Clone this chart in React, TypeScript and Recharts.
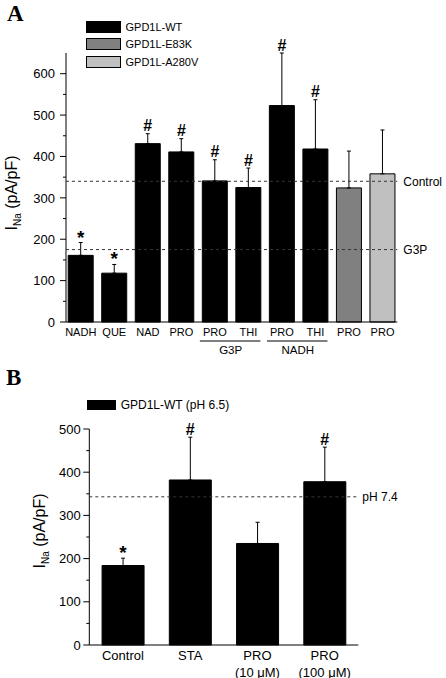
import { ComposedChart, Bar, Cell, ErrorBar, Line, XAxis, YAxis, ReferenceLine } from "recharts";

const FONT = "'Liberation Sans', Arial, Helvetica, sans-serif";
const SERIF = "'Liberation Serif', 'Times New Roman', serif";

// Panel A: GPD1L variants, INa density (pA/pF)
const labelsA = ["NADH", "QUE", "NAD", "PRO", "PRO", "THI", "PRO", "THI", "PRO", "PRO"];
const meansA = [161, 118, 431, 411, 341, 325, 523, 418, 324, 358];
const upperA = [192, 139, 455, 443, 392, 372, 650, 537, 413, 464];
const marksA = ["*", "*", "#", "#", "#", "#", "#", "#", "", ""];
const genotypeA = ["WT", "WT", "WT", "WT", "WT", "WT", "WT", "WT", "E83K", "A280V"];
const groupsA = [
	{ label: "G3P", first: 4 },
	{ label: "NADH", first: 6 },
];
const refLinesA = [
	{ label: "Control", value: 340 },
	{ label: "G3P", value: 175 },
];
const legendA = [
	{ key: "WT", label: "GPD1L-WT" },
	{ key: "E83K", label: "GPD1L-E83K" },
	{ key: "A280V", label: "GPD1L-A280V" },
];
const ticksA = [0, 50, 100, 150, 200, 250, 300, 350, 400, 450, 500, 550, 600];

// Panel B: pH 6.5
const labelsB = [["Control"], ["STA"], ["PRO", "(10 \u03bcM)"], ["PRO", "(100 \u03bcM)"]];
const meansB = [184, 382, 235, 378];
const upperB = [201, 481, 284, 458];
const marksB = ["*", "#", "", "#"];
const refLineB = { label: "pH 7.4", value: 343 };
const ticksB = [0, 50, 100, 150, 200, 250, 300, 350, 400, 450, 500];

const colors: Record<string, string> = {
	WT: "#000000",
	E83K: "#808080",
	A280V: "#c0c0c0",
};

const dataA = labelsA.map((name, i) => ({
	id: i,
	name,
	mean: meansA[i],
	err: [0, upperA[i] - meansA[i]],
	hi: upperA[i],
	mark: marksA[i],
}));

const dataB = labelsB.map((name, i) => ({
	id: i,
	mean: meansB[i],
	err: [0, upperB[i] - meansB[i]],
	hi: upperB[i],
	mark: marksB[i],
}));

// layout
const W = 446;
const A_H = 360;
const A_LEFT = 66;
const A_RIGHT = 48.7;
const A_PAD = -2;
const STEP_A = (W - A_LEFT - A_RIGHT - 2 * A_PAD) / labelsA.length;
const B_H = 318;

function makeYTick(labelGap: number) {
	return function YTick(props: any) {
		const { x, y, payload } = props;
		const major = payload.value % 100 === 0;
		return (
			<g>
				<line x1={x} x2={x - (major ? 6 : 3)} y1={y} y2={y} stroke="#000" strokeWidth={1} />
				{major && (
					<text x={x - labelGap} y={y} dy="0.36em" textAnchor="end" fontSize={13} fontFamily={FONT} fill="#000">
						{payload.value}
					</text>
				)}
			</g>
		);
	};
}

function TickA(props: any) {
	const { x, y, payload } = props;
	const i = payload.value as number;
	const group = groupsA.find((g) => g.first === i);
	return (
		<g>
			<text x={x} y={y + 14} textAnchor="middle" fontSize={11} fontFamily={FONT} fill="#000">
				{labelsA[i]}
			</text>
			{group && (
				<g>
					<line x1={x - 15} x2={x + STEP_A + 12} y1={y + 19} y2={y + 19} stroke="#000" strokeWidth={1} />
					<text x={x + STEP_A / 2 - 1} y={y + 32} textAnchor="middle" fontSize={11.5} fontFamily={FONT} fill="#000">
						{group.label}
					</text>
				</g>
			)}
		</g>
	);
}

function TickB(props: any) {
	const { x, y, payload } = props;
	const lines = labelsB[payload.value as number];
	return (
		<text x={x} y={y + 15} textAnchor="middle" fontSize={13} fontFamily={FONT} fill="#000">
			{lines.map((l, k) => (
				<tspan key={k} x={x} dy={k === 0 ? 0 : 16.5}>
					{l}
				</tspan>
			))}
		</text>
	);
}

function renderMark(props: any) {
	const { cx, cy, payload, index } = props;
	if (!payload.mark) return <g key={index} />;
	const star = payload.mark === "*";
	return (
		<text
			key={index}
			x={cx}
			y={star ? cy + 1 : cy - 2.5}
			textAnchor="middle"
			fontSize={star ? 19 : 16}
			fontWeight="bold"
			fontFamily={FONT}
			fill="#000"
		>
			{payload.mark}
		</text>
	);
}

function YTitle({ x, y }: { x: number; y: number }) {
	return (
		<text transform={`translate(${x},${y}) rotate(-90)`} textAnchor="middle" fontSize={16} fontFamily={FONT} fill="#000">
			I
			<tspan fontSize={10} dy={4}>
				Na
			</tspan>
			<tspan dy={-4}> (pA/pF)</tspan>
		</text>
	);
}

export default function App() {
	return (
		<div style={{ position: "absolute", left: 0, top: 0, width: W, height: 678, background: "#fff", fontFamily: FONT }}>
			<div style={{ position: "absolute", left: 0, top: 0 }}>
				<ComposedChart
					width={W}
					height={A_H}
					data={dataA}
					margin={{ top: 53, right: A_RIGHT, bottom: 0, left: 0 }}
					barCategoryGap="12.5%"
				>
					<XAxis
						dataKey="id"
						type="category"
						interval={0}
						height={38}
						padding={{ left: A_PAD, right: A_PAD }}
						axisLine={{ stroke: "#000" }}
						tickLine={false}
						tickSize={0}
						tickMargin={0}
						tick={TickA}
					/>
					<YAxis
						width={A_LEFT}
						domain={[0, 650]}
						ticks={ticksA}
						interval={0}
						axisLine={{ stroke: "#000" }}
						tickLine={false}
						tickSize={0}
						tickMargin={0}
						tick={makeYTick(11)}
					/>
					<Bar dataKey="mean" isAnimationActive={false} strokeWidth={1}>
						{dataA.map((d, i) => (
							<Cell key={i} fill={colors[genotypeA[i]]} stroke="#000" />
						))}
						<ErrorBar dataKey="err" direction="y" width={2} stroke="#000" strokeWidth={1} />
					</Bar>
					<Line
						dataKey="hi"
						stroke="none"
						isAnimationActive={false}
						dot={renderMark}
						activeDot={false}
						legendType="none"
					/>
					{refLinesA.map((r) => (
						<ReferenceLine
							key={r.label}
							y={r.value}
							stroke="#333"
							strokeDasharray="3 3"
							strokeWidth={1}
							zIndex={1000}
							label={{ value: r.label, position: "right", offset: 6, fontSize: 12, fill: "#000", fontFamily: FONT }}
						/>
					))}
				</ComposedChart>
			</div>

			<div style={{ position: "absolute", left: 0, top: A_H }}>
				<ComposedChart
					width={W}
					height={B_H}
					data={dataB}
					margin={{ top: 69, right: 87.7, bottom: 0, left: 0 }}
					barCategoryGap="19%"
				>
					<XAxis
						dataKey="id"
						type="category"
						interval={0}
						height={33}
						axisLine={{ stroke: "#000" }}
						tickLine={false}
						tickSize={0}
						tickMargin={0}
						tick={TickB}
					/>
					<YAxis
						width={89.3}
						domain={[0, 500]}
						ticks={ticksB}
						interval={0}
						axisLine={{ stroke: "#000" }}
						tickLine={false}
						tickSize={0}
						tickMargin={0}
						tick={makeYTick(8.5)}
					/>
					<Bar dataKey="mean" fill="#000" stroke="#000" isAnimationActive={false}>
						<ErrorBar dataKey="err" direction="y" width={2} stroke="#000" strokeWidth={1} />
					</Bar>
					<Line
						dataKey="hi"
						stroke="none"
						isAnimationActive={false}
						dot={renderMark}
						activeDot={false}
						legendType="none"
					/>
					<ReferenceLine
						y={refLineB.value}
						stroke="#333"
						strokeDasharray="3 3"
						strokeWidth={1}
						zIndex={1000}
						label={{ value: refLineB.label, position: "right", offset: 4, fontSize: 12, fill: "#000", fontFamily: FONT }}
					/>
				</ComposedChart>
			</div>

			{/* legends */}
			{legendA.map((l, i) => (
				<div key={l.key} style={{ position: "absolute", left: 86, top: 20.5 + i * 17.6, display: "flex", alignItems: "center", height: 12 }}>
					<div
						style={{
							width: 33,
							height: 10,
							background: colors[l.key],
							border: "1px solid #000",
							boxSizing: "content-box",
						}}
					/>
					<span style={{ marginLeft: 4.5, fontSize: 11, lineHeight: "12px", color: "#000" }}>{l.label}</span>
				</div>
			))}
			<div style={{ position: "absolute", left: 87.3, top: 399, display: "flex", alignItems: "center", height: 12 }}>
				<div style={{ width: 28.4, height: 10.7, background: "#000" }} />
				<span style={{ marginLeft: 5, fontSize: 12, lineHeight: "12px", color: "#000" }}>GPD1L-WT (pH 6.5)</span>
			</div>

			{/* panel letters and axis titles */}
			<svg width={W} height={678} style={{ position: "absolute", left: 0, top: 0, pointerEvents: "none" }}>
				<text x={7} y={21} fontSize={23} fontWeight="bold" fontFamily={SERIF} fill="#000">
					A
				</text>
				<text x={6} y={385} fontSize={23} fontWeight="bold" fontFamily={SERIF} fill="#000">
					B
				</text>
				<YTitle x={17} y={193} />
				<YTitle x={45} y={531} />
			</svg>
		</div>
	);
}
